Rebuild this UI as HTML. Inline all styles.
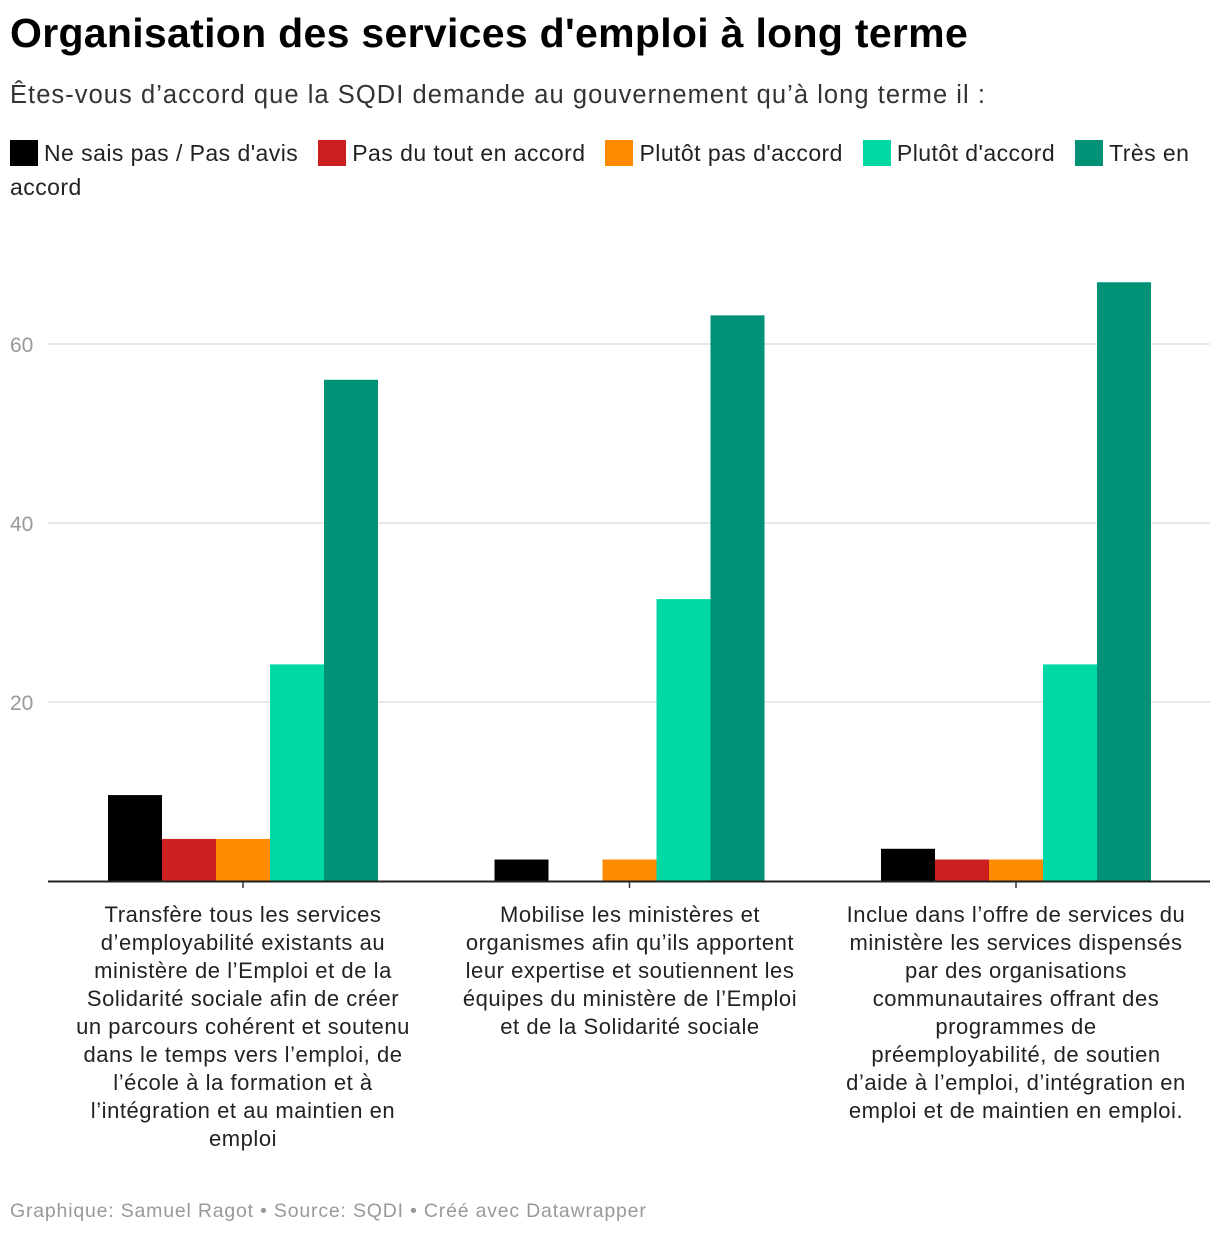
<!DOCTYPE html>
<html><head><meta charset="utf-8"><style>
body{margin:0;background:#fff;font-family:"Liberation Sans",sans-serif;width:1220px;height:1238px;position:relative;overflow:hidden}
#title{position:absolute;left:10px;top:10px;font-size:41px;font-weight:bold;color:#000;letter-spacing:0.3px;white-space:nowrap}
#sub{position:absolute;left:10px;top:81px;font-size:25.5px;color:#333;letter-spacing:1.05px;white-space:nowrap}
#legend{position:absolute;left:10px;top:136px;width:1200px;font-size:23px;color:#222;line-height:34px;letter-spacing:0.45px}
.li{display:inline-block;margin-right:20px}
.sw{display:inline-block;width:28px;height:26px;vertical-align:-5px;margin-right:6px}
.cat{position:absolute;top:901px;width:380px;text-align:center;font-size:22px;line-height:28px;color:#222;white-space:nowrap;letter-spacing:0.55px}
#foot{position:absolute;left:10px;top:1200px;font-size:19.5px;color:#999;letter-spacing:0.8px}
</style></head><body>
<div id="title">Organisation des services d'emploi à long terme</div>
<div id="sub">Êtes-vous d’accord que la SQDI demande au gouvernement qu’à long terme il :</div>
<div id="legend">
<span class="li"><span class="sw" style="background:#000"></span>Ne sais pas / Pas d'avis</span><span class="li"><span class="sw" style="background:#cc2020"></span>Pas du tout en accord</span><span class="li"><span class="sw" style="background:#ff8c00"></span>Plutôt pas d'accord</span><span class="li"><span class="sw" style="background:#00d9a3"></span>Plutôt d'accord</span><span><span class="sw" style="background:#009177"></span>Très en<br>accord</span>
</div>
<svg id="chart" width="1220" height="1238" style="position:absolute;left:0;top:0"></svg>
<div class="cat" style="left:53px">Transfère tous les services<br>d’employabilité existants au<br>ministère de l’Emploi et de la<br>Solidarité sociale afin de créer<br>un parcours cohérent et soutenu<br>dans le temps vers l’emploi, de<br>l’école à la formation et à<br>l’intégration et au maintien en<br>emploi</div>
<div class="cat" style="left:440px">Mobilise les ministères et<br>organismes afin qu’ils apportent<br>leur expertise et soutiennent les<br>équipes du ministère de l’Emploi<br>et de la Solidarité sociale</div>
<div class="cat" style="left:826px">Inclue dans l’offre de services du<br>ministère les services dispensés<br>par des organisations<br>communautaires offrant des<br>programmes de<br>préemployabilité, de soutien<br>d’aide à l’emploi, d’intégration en<br>emploi et de maintien en emploi.</div>
<div id="foot">Graphique: Samuel Ragot • Source: SQDI • Créé avec Datawrapper</div>
<script>
const categories=["Transfère","Mobilise","Inclue"];
const neSaisPas=[9.6,2.4,3.6];
const pasDuTout=[4.7,0,2.4];
const plutotPas=[4.7,2.4,2.4];
const plutot=[24.2,31.5,24.2];
const tres=[56.0,63.2,66.9];
const yTicks=[20,40,60];
const seriesColors=["#000","#cc2020","#ff8c00","#00d9a3","#009177"];
const series=[neSaisPas,pasDuTout,plutotPas,plutot,tres];
const NS="http://www.w3.org/2000/svg";
const svg=document.getElementById("chart");
const y=v=>881-v*8.95;
const groupCenter=i=>243+i*386.5;
const bw=54;
function mk(t,a){const e=document.createElementNS(NS,t);for(const k in a)e.setAttribute(k,a[k]);svg.appendChild(e);return e;}
yTicks.forEach(t=>{
 const l=mk("line",{x1:48,x2:1210,y1:y(t),y2:y(t),stroke:"#e0e0e0","stroke-width":1.5});
 
 
 const tx=mk("text",{x:10,y:y(t)+8,"font-size":21,fill:"#999","font-family":"Liberation Sans, sans-serif"});
 tx.textContent=t;
 
 
});
categories.forEach((c,i)=>{
 series.forEach((s,j)=>{
  const x=groupCenter(i)-2.5*bw+j*bw;
  const r=mk("rect",{x:x,y:y(s[i]),width:bw,height:881-y(s[i]),fill:seriesColors[j]});
  
  
 });
 const tk=mk("line",{x1:groupCenter(i),x2:groupCenter(i),y1:881,y2:888,stroke:"#333","stroke-width":1.5});
 
 
});
const ax=mk("line",{x1:48,x2:1210,y1:881.5,y2:881.5,stroke:"#222","stroke-width":2});


</script>
</body></html>
